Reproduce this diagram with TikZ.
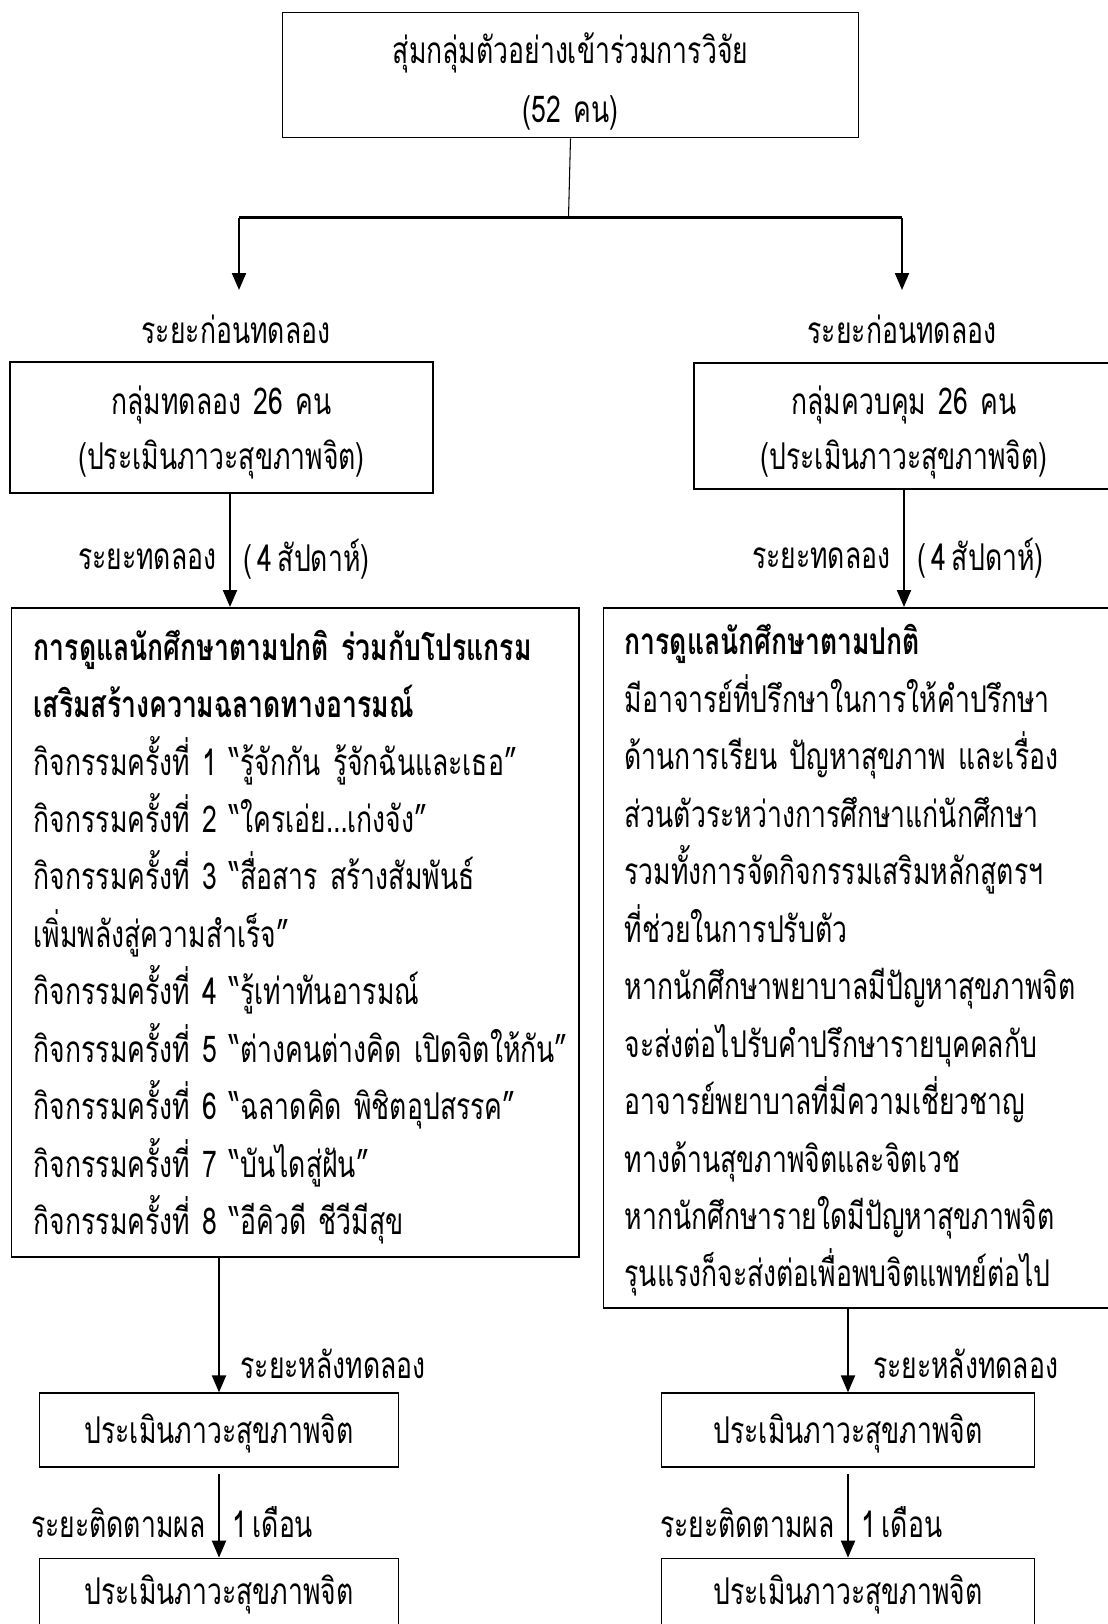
\documentclass[tikz,border=0pt]{standalone}
\usepackage{fontspec}
\setmainfont{Loma}[Script=Thai, FakeStretch=0.72, WordSpace=0.6]
\usetikzlibrary{arrows.meta, positioning}
\newcommand{\thaitext}{\fontsize{21}{32.7}\selectfont}

\begin{document}
\begin{tikzpicture}[
            box/.style={draw, rectangle, line width=1pt, align=center, inner xsep=0pt, font=\thaitext},
            bigbox/.style={draw, rectangle, line width=1pt, align=left, anchor=north west, font=\thaitext},
            arrow/.style={-{Triangle[length=0.34cm, width=0.28cm]}, line width=1.2pt},
            lbl/.style={font=\thaitext, inner ysep=0pt, inner xsep=0.25cm}
        ]
        \useasboundingbox (0,0) rectangle (22.14,-32.48);

        % --- Sample ---
        \node[box, text width=11.52cm, minimum height=2.50cm, text height=0.5cm, text depth=0.97cm] (sample) at (11.41,-1.50) {สุ่มกลุ่มตัวอย่างเข้าร่วมการวิจัย\\[1.3pt](52 คน)};
        \coordinate (split) at (11.37,-4.35);
        \coordinate (splitL) at (4.78,-4.35);
        \coordinate (splitR) at (18.04,-4.35);
        \coordinate (endL) at (4.78,-5.80);
        \coordinate (endR) at (18.04,-5.80);
        \draw[line width=0.6pt] (sample.south) -- (split);
        \draw[line width=1.4pt] (splitL) -- (splitR);
        \draw[arrow] (splitL) -- (endL);
        \draw[arrow] (splitR) -- (endR);

        \node[lbl] (preL) at (4.72,-6.59) {ระยะก่อนทดลอง};
        \node[lbl] (preR) at (18.04,-6.59) {ระยะก่อนทดลอง};

        % --- Pretest ---
        \node[box, text width=8.45cm, minimum height=2.61cm, text height=0.5cm, text depth=1.04cm] (expPre) at (4.43,-8.55) {กลุ่มทดลอง 26 คน\\[-1pt](ประเมินภาวะสุขภาพจิต)};
        \node[box, text width=8.40cm, minimum height=2.53cm, text height=0.5cm, text depth=0.98cm] (ctlPre) at (18.08,-8.52) {กลุ่มควบคุม 26 คน\\[-1pt](ประเมินภาวะสุขภาพจิต)};

        % --- Intervention ---
        \node[bigbox, minimum width=11.35cm, minimum height=12.98cm, text width=10.45cm, inner xsep=0.45cm, text height=0.5cm, text depth=11.39cm] (expProg) at (0.21,-12.14) {\textbf{การดูแลนักศึกษาตามปกติ ร่วมกับโปรแกรม}\\
            \textbf{เสริมสร้างความฉลาดทางอารมณ์}\\
            กิจกรรมครั้งที่ 1 “รู้จักกัน รู้จักฉันและเธอ”\\
            กิจกรรมครั้งที่ 2 “ใครเอ่ย…เก่งจัง”\\
            กิจกรรมครั้งที่ 3 “สื่อสาร สร้างสัมพันธ์\\
            เพิ่มพลังสู่ความสำเร็จ”\\
            กิจกรรมครั้งที่ 4 “รู้เท่าทันอารมณ์\\
            \mbox{กิจกรรมครั้งที่ 5 “ต่างคนต่างคิด เปิดจิตให้กัน”}\\
            กิจกรรมครั้งที่ 6 “ฉลาดคิด พิชิตอุปสรรค”\\
            กิจกรรมครั้งที่ 7 “บันไดสู่ฝัน”\\
            กิจกรรมครั้งที่ 8 “อีคิวดี ชีวีมีสุข};
        \node[bigbox, minimum width=10.25cm, minimum height=14.0cm, text width=9.4cm, inner xsep=0.42cm, text height=0.5cm, text depth=12.62cm] (ctlCare) at (12.05,-12.14) {\textbf{การดูแลนักศึกษาตามปกติ}\\
            มีอาจารย์ที่ปรึกษาในการให้คำปรึกษา\\
            ด้านการเรียน ปัญหาสุขภาพ และเรื่อง\\
            ส่วนตัวระหว่างการศึกษาแก่นักศึกษา\\
            รวมทั้งการจัดกิจกรรมเสริมหลักสูตรฯ\\
            ที่ช่วยในการปรับตัว\\
            หากนักศึกษาพยาบาลมีปัญหาสุขภาพจิต\\
            จะส่งต่อไปรับคำปรึกษารายบุคคลกับ\\
            อาจารย์พยาบาลที่มีความเชี่ยวชาญ\\
            ทางด้านสุขภาพจิตและจิตเวช\\
            หากนักศึกษารายใดมีปัญหาสุขภาพจิต\\
            รุนแรงก็จะส่งต่อเพื่อพบจิตแพทย์ต่อไป};

        \draw[arrow] ([xshift=0.17cm]expPre.south) -- node[pos=0.58, lbl, left] {ระยะทดลอง} node[pos=0.58, lbl, right] {( 4 สัปดาห์)} ([xshift=0.17cm]expPre.south |- expProg.north);
        \draw[arrow] (ctlPre.south) -- node[pos=0.58, lbl, left] {ระยะทดลอง} node[pos=0.58, lbl, right] {( 4 สัปดาห์)} (ctlPre.south |- ctlCare.north);

        % --- Posttest and follow-up ---
        \node[box, text width=7.18cm, minimum height=1.47cm, text height=0.6cm, text depth=0.08cm] (expPost) at (4.38,-28.60) {ประเมินภาวะสุขภาพจิต};
        \node[box, text width=7.18cm, minimum height=1.47cm, text height=0.6cm, text depth=0.23cm] (expFollow) at (4.38,-31.905) {ประเมินภาวะสุขภาพจิต};
        \node[box, text width=7.46cm, minimum height=1.47cm, text height=0.6cm, text depth=0.08cm] (ctlPost) at (16.96,-28.60) {ประเมินภาวะสุขภาพจิต};
        \node[box, text width=7.46cm, minimum height=1.47cm, text height=0.6cm, text depth=0.23cm] (ctlFollow) at (16.96,-31.905) {ประเมินภาวะสุขภาพจิต};

        \draw[arrow] (expPost.north |- expProg.south) -- node[pos=0.79, lbl, right, inner xsep=0.41cm] {ระยะหลังทดลอง} (expPost.north);
        \draw[arrow] ([yshift=-0.12cm]expPost.south) -- node[pos=0.58, lbl, left] {ระยะติดตามผล} node[pos=0.58, lbl, right] {1 เดือน} (expFollow.north);
        \draw[arrow] (ctlPost.north |- ctlCare.south) -- node[pos=0.66, lbl, right, inner xsep=0.48cm] {ระยะหลังทดลอง} (ctlPost.north);
        \draw[arrow] ([yshift=-0.12cm]ctlPost.south) -- node[pos=0.58, lbl, left] {ระยะติดตามผล} node[pos=0.58, lbl, right] {1 เดือน} (ctlFollow.north);

    \end{tikzpicture}
\end{document}
